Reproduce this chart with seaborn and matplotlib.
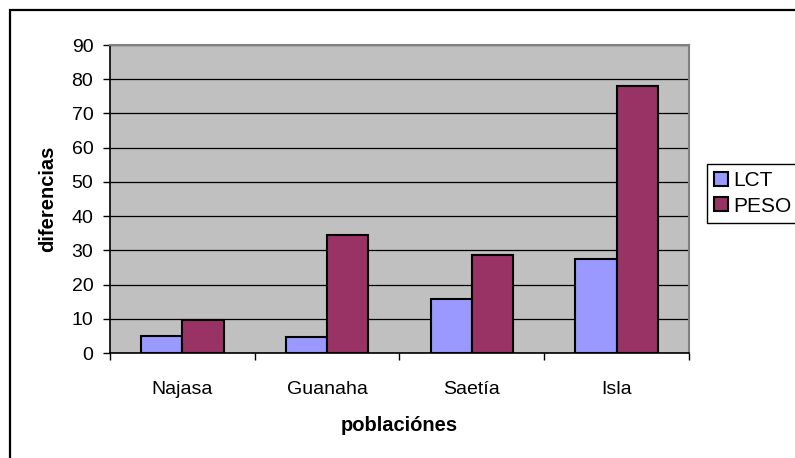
import matplotlib
matplotlib.use("Agg")
import matplotlib.pyplot as plt
import matplotlib.patches as mpatches
import pandas as pd
import seaborn as sns

poblaciones = ["Najasa", "Guanaha", "Saetía", "Isla"]
series = ["LCT", "PESO"]
lct = [5.1, 4.6, 15.7, 27.4]
peso = [9.5, 34.4, 28.7, 77.9]
colores = ["#9999FF", "#993366"]
y_ticks = list(range(0, 100, 10))

df = pd.DataFrame({
    "poblacion": poblaciones * 2,
    "serie": [series[0]] * 4 + [series[1]] * 4,
    "valor": lct + peso,
})

sns.set_style("white")
plt.rcParams["font.family"] = ["Liberation Sans", "DejaVu Sans"]
plt.rcParams.update({"text.color": "black", "axes.labelcolor": "black",
                     "xtick.color": "black", "ytick.color": "black"})

fig = plt.figure(figsize=(7.95, 4.58), dpi=100)
W, H = 795, 458
ax = fig.add_axes([110 / W, 1 - 353 / H, (689 - 110) / W, (353 - 45) / H])
ax.set_facecolor("#C0C0C0")

sns.barplot(data=df, x="poblacion", y="valor", hue="serie", palette=colores, saturation=1,
            width=0.571, edgecolor="black", linewidth=1.5, ax=ax, zorder=3)

ax.set_xlim(-0.5, 3.5)
ax.set_ylim(0, 90)
ax.set_yticks(y_ticks)
ax.yaxis.grid(True, color="black", linewidth=0.9, zorder=0)
ax.set_axisbelow(True)

# category boundary ticks like excel
ax.set_xticks([i - 0.5 for i in range(5)], minor=True)
ax.tick_params(axis="x", which="major", length=0, pad=20, labelsize=14)
ax.tick_params(axis="x", which="minor", length=5, width=1, color="black", bottom=True)
ax.tick_params(axis="y", length=5, width=1, color="black", left=True, pad=7, labelsize=14)

for side in ["top", "right"]:
    ax.spines[side].set_color("#808080")
    ax.spines[side].set_linewidth(1.5)
for side in ["left", "bottom"]:
    ax.spines[side].set_color("black")
    ax.spines[side].set_linewidth(1.2)

ax.set_xlabel("poblaciónes", fontsize=14.5, fontweight="bold", labelpad=13)
ax.set_ylabel("diferencias", fontsize=14.5, fontweight="bold", labelpad=10)

handles, labels = ax.get_legend_handles_labels()
ax.get_legend().remove()
leg = ax.legend(handles, labels, loc="upper left", bbox_to_anchor=(707 / W, 1 - 164 / H),
                bbox_transform=fig.transFigure, fontsize=15, frameon=True, fancybox=False,
                framealpha=1, edgecolor="black", handlelength=0.65, handleheight=0.65,
                handletextpad=0.25, borderpad=0.35, labelspacing=0.3, borderaxespad=0)
leg.get_frame().set_linewidth(1)

border = mpatches.Rectangle((10 / W, -0.2), 1.2, 1.2 - 10 / H, transform=fig.transFigure,
                            fill=False, edgecolor="black", linewidth=1.6, clip_on=False)
fig.patches.append(border)

fig.savefig("out.png", dpi=100)
